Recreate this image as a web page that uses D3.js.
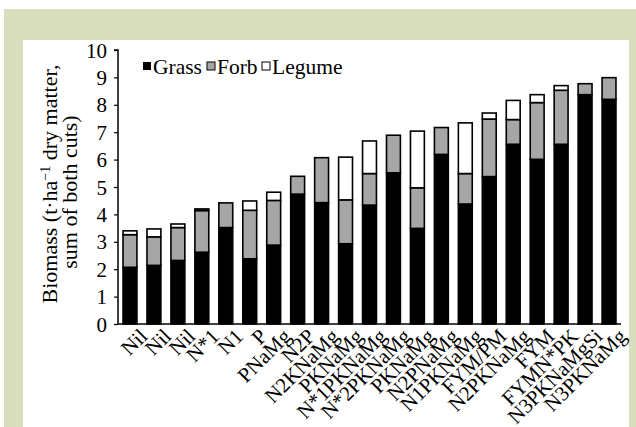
<!DOCTYPE html>
<html><head><meta charset="utf-8">
<script src="https://cdn.jsdelivr.net/npm/d3@7"></script>
<style>
html,body{margin:0;padding:0;background:#fff;}
svg{display:block;}
svg text{font-family:"Liberation Serif","Times New Roman",Times,"DejaVu Serif",serif !important;fill:#000;}
</style></head>
<body>
<svg id="chart" width="636" height="427"></svg>
<script>
const categories = ["Nil","Nil","Nil","N*1","N1","P","PNaMg","N2P","N2KNaMg","PKNaMg","N*1PKNaMg","N*2PKNaMg","PKNaMg","N2PNaMg","N1PKNaMg","FYM/PM","N2PKNaMg","FYM","FYMN*PK","N3PKNaMgSi","N3PKNaMg"];
const grass  = [2.07,2.14,2.32,2.62,3.52,2.38,2.88,4.74,4.43,2.93,4.34,5.52,3.49,6.19,4.38,5.38,6.56,6.01,6.56,8.37,8.20];
const forb   = [1.19,1.04,1.20,1.52,0.90,1.77,1.63,0.65,1.64,1.60,1.15,1.37,1.48,0.98,1.11,2.10,0.90,2.07,1.97,0.40,0.79];
const legume = [0.14,0.29,0.13,0.06,0.00,0.34,0.30,0.00,0.00,1.56,1.19,0.00,2.07,0.00,1.85,0.22,0.70,0.29,0.17,0.00,0.00];
const seriesNames = ["Grass","Forb","Legume"];
const seriesColors = ["#000000","#a6a6a6","#ffffff"];
const yTicks = [0,1,2,3,4,5,6,7,8,9,10];

const svg = d3.select("#chart");
svg.append("rect").attr("x",4).attr("y",9).attr("width",632).attr("height",418).attr("fill","#d8ddbe");
svg.append("rect").attr("x",23).attr("y",40).attr("width",606).attr("height",387).attr("fill","#ffffff");

const x0 = 118, x1 = 621, yB = 324, yT = 50;
const x = d3.scaleBand().domain(d3.range(categories.length)).range([x0, x1]).paddingInner(0.42).paddingOuter(0.21);
const y = d3.scaleLinear().domain([0,10]).range([yB, yT]);

const rows = categories.map((c,i)=>({i, Grass:grass[i], Forb:forb[i], Legume:legume[i]}));
const stack = d3.stack().keys(seriesNames)(rows);

const g = svg.append("g");
stack.forEach((s,k)=>{
  g.selectAll(null).data(s.filter(d=>d[1]-d[0]>0)).enter().append("rect")
    .attr("x", d=>x(d.data.i))
    .attr("width", x.bandwidth())
    .attr("y", d=>y(d[1]))
    .attr("height", d=>y(d[0])-y(d[1]))
    .attr("fill", seriesColors[k])
    .attr("stroke","#000").attr("stroke-width",1.6);
});

const ya = svg.append("g").attr("transform",`translate(${x0},0)`)
  .call(d3.axisLeft(y).tickValues(yTicks).tickSize(4).tickPadding(7).tickFormat(d3.format("d")));
ya.attr("font-family",null);
ya.select(".domain").attr("stroke","#000").attr("stroke-width",1.5).attr("d",`M-4,${yT}H0V${yB}`);
ya.selectAll(".tick line").attr("stroke","#000").attr("stroke-width",1.2);
ya.selectAll(".tick text").style("font-size","21px").attr("dy","0.34em");

const xa = svg.append("g").attr("transform",`translate(0,${yB})`)
  .call(d3.axisBottom(x).tickSize(0).tickFormat(i=>categories[i]));
xa.attr("font-family",null);
xa.select(".domain").attr("stroke","#000").attr("stroke-width",1.5).attr("d",`M${x0},0H${x1}`);
xa.selectAll(".tick text")
  .style("font-size","21px")
  .attr("text-anchor","end")
  .attr("transform","translate(8,3) rotate(-45)")
  .attr("x",0).attr("y",0).attr("dy","0.71em");

svg.append("text").attr("transform","translate(57,184) rotate(-90)").attr("text-anchor","middle")
  .style("font-size","22px")
  .call(t=>{
    t.append("tspan").text("Biomass (t·ha");
    t.append("tspan").attr("baseline-shift","super").style("font-size","14px").text("−1");
    t.append("tspan").text(" dry matter,");
  });
svg.append("text").attr("transform","translate(77,192) rotate(-90)").attr("text-anchor","middle")
  .style("font-size","22px").text("sum of both cuts)");

const legX = [143, 207, 262];
const leg = svg.append("g");
seriesNames.forEach((n,k)=>{
  leg.append("rect").attr("x",legX[k]).attr("y",62).attr("width",8).attr("height",8)
    .attr("fill",seriesColors[k]).attr("stroke", k===0?"none":"#000").attr("stroke-width",1);
  leg.append("text").attr("x",legX[k]+10).attr("y",74).style("font-size","21.5px").text(n);
});
</script>
</body></html>
